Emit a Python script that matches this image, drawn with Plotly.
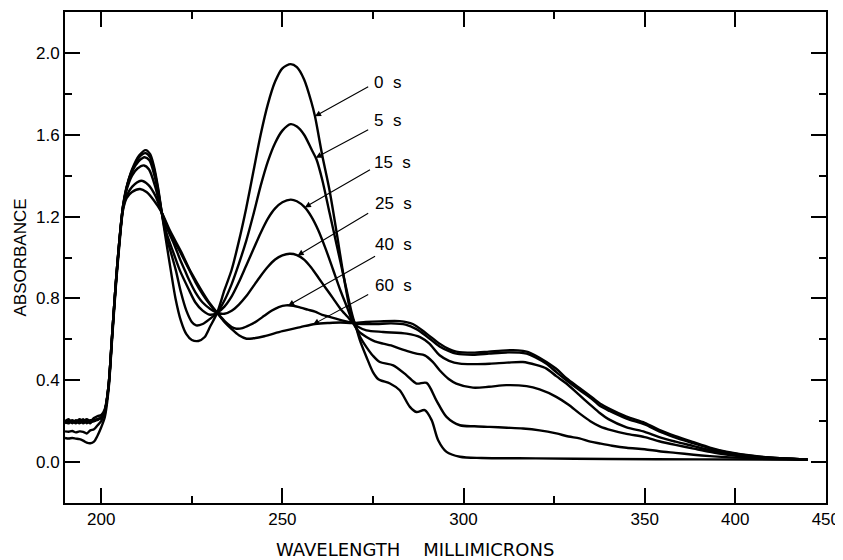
import numpy as np
import plotly.graph_objects as go

# ---------------- data (wavelength in millimicrons, absorbance) ----------------
base_wl = [190, 191, 192, 193, 194, 195, 196, 197, 198, 199, 200, 201, 202, 203, 204, 205, 206]

wl_0s = base_wl + [207, 208.5, 210.5, 212.3, 213.5, 214.5, 215.7, 216.7,
                   218, 219.2, 220.5, 222, 223.5, 225, 226.8, 228.5, 230, 232,
                   234, 236, 238, 240, 242, 244, 246, 248, 250, 252.3,
                   254, 256, 258, 259, 261, 263, 265, 267, 269, 270,
                   271.5, 273.2, 275, 276.5, 279.7, 282.4, 285.2, 287, 289.3, 291.2,
                   293, 295.3, 299, 305, 320, 340, 380, 440]
abs_0s = [0.20, 0.21, 0.19, 0.205, 0.195, 0.21, 0.19, 0.205, 0.20, 0.21, 0.215,
          0.25, 0.37, 0.62, 0.87, 1.08, 1.24,
          1.34, 1.43, 1.50, 1.525, 1.505, 1.45, 1.34, 1.22,
          1.07, 0.937, 0.80, 0.69, 0.625, 0.597, 0.592, 0.61, 0.66, 0.73,
          0.84, 0.94, 1.08, 1.24, 1.42, 1.60, 1.75, 1.86, 1.925, 1.945,
          1.93, 1.87, 1.76, 1.69, 1.50, 1.33, 1.12, 0.90, 0.72, 0.677,
          0.59, 0.514, 0.44, 0.405, 0.384, 0.351, 0.27, 0.245, 0.254, 0.205,
          0.107, 0.05, 0.026, 0.02, 0.018, 0.015, 0.013, 0.012]

wl_5s = base_wl + [207, 208.5, 210.5, 212.2, 213.5, 214.6, 215.7, 216.7,
                   218, 219.3, 220.6, 222, 223.5, 225, 226.2, 228, 230, 232,
                   234, 236, 238, 240, 242, 244, 246, 248, 250, 252.3,
                   254, 256, 258, 259.4, 261, 263, 265, 267, 269, 270,
                   271.5, 273.2, 275, 276.9, 280.6, 284.3, 287, 289.8, 292.5, 295.3,
                   299, 303, 307.2, 312, 316.4, 321, 325.6, 329, 332, 335, 337.6, 341,
                   345, 350, 358, 367, 377, 386, 395, 413, 440]
abs_5s = [0.195, 0.19, 0.20, 0.19, 0.205, 0.19, 0.20, 0.19, 0.21, 0.205, 0.22,
          0.25, 0.37, 0.62, 0.87, 1.08, 1.25,
          1.345, 1.425, 1.49, 1.51, 1.49, 1.43, 1.33, 1.22,
          1.10, 1.02, 0.937, 0.83, 0.74, 0.685, 0.668, 0.675, 0.70, 0.73,
          0.79, 0.87, 0.97, 1.08, 1.21, 1.35, 1.47, 1.56, 1.62, 1.652,
          1.64, 1.60, 1.53, 1.48, 1.38, 1.22, 1.06, 0.90, 0.74, 0.677,
          0.61, 0.562, 0.52, 0.489, 0.473, 0.424, 0.384, 0.387, 0.302, 0.221,
          0.18, 0.175, 0.172, 0.168, 0.164, 0.155, 0.14, 0.125, 0.116, 0.10, 0.091, 0.08,
          0.07, 0.063, 0.053, 0.045, 0.036, 0.029, 0.024, 0.017, 0.012]

wl_15s = base_wl + [207, 208.5, 210.3, 212, 213.3, 214.7, 215.8, 216.7,
                    218, 220, 221.7, 224, 226, 228, 230, 232,
                    234, 236, 238, 240, 242, 244, 246, 248, 250, 252.3,
                    254, 256.2, 258, 260, 262, 264, 266, 268, 269.5,
                    271, 273.2, 275.5, 277.8, 280, 282.4, 285, 287, 289.3, 291.5,
                    293.4, 296, 298, 302.6, 307, 311.8, 317.4, 321, 325.6, 329, 332, 335,
                    337.6, 341, 345, 350, 358, 367, 377, 386, 395, 413, 440]
abs_15s = [0.19, 0.20, 0.195, 0.20, 0.19, 0.20, 0.205, 0.195, 0.20, 0.21, 0.215,
           0.25, 0.37, 0.62, 0.87, 1.08, 1.25,
           1.34, 1.42, 1.47, 1.49, 1.475, 1.40, 1.31, 1.22,
           1.12, 1.02, 0.937, 0.85, 0.78, 0.74, 0.72, 0.73,
           0.76, 0.81, 0.88, 0.96, 1.04, 1.12, 1.19, 1.24, 1.27, 1.283,
           1.275, 1.245, 1.20, 1.13, 1.04, 0.94, 0.84, 0.75, 0.68,
           0.64, 0.611, 0.59, 0.579, 0.57, 0.555, 0.54, 0.53, 0.522, 0.49,
           0.449, 0.405, 0.384, 0.364, 0.368, 0.376, 0.371, 0.355, 0.319, 0.28, 0.238, 0.20,
           0.175, 0.155, 0.138, 0.122, 0.102, 0.084, 0.066, 0.05, 0.037, 0.022, 0.012]

wl_25s = base_wl + [207, 208.5, 210, 211.8, 213.2, 215, 216.7,
                    218, 220, 222, 223.1, 224, 226, 228, 230, 232, 234,
                    236, 238, 240, 242, 244, 246, 248, 250, 252, 254,
                    256, 258, 260, 262, 264, 266, 268, 269.5,
                    271, 273.2, 277.8, 284.3, 288, 290.5, 293.4, 296, 299, 303, 307.2, 312,
                    316.4, 320, 322.9, 325.6, 328.4, 332, 335, 337.6, 340, 345, 350, 358,
                    367, 377, 386, 395, 413, 440]
abs_25s = [0.20, 0.195, 0.205, 0.195, 0.21, 0.20, 0.21, 0.20, 0.215, 0.225, 0.23,
           0.26, 0.37, 0.62, 0.87, 1.08, 1.25,
           1.33, 1.40, 1.435, 1.45, 1.43, 1.34, 1.22,
           1.15, 1.07, 0.98, 0.937, 0.90, 0.83, 0.78, 0.75, 0.73, 0.725,
           0.74, 0.77, 0.81, 0.86, 0.91, 0.955, 0.99, 1.01, 1.018, 1.012,
           0.99, 0.95, 0.90, 0.85, 0.80, 0.75, 0.71, 0.68,
           0.66, 0.644, 0.636, 0.628, 0.611, 0.58, 0.522, 0.495, 0.481, 0.479, 0.481, 0.486,
           0.489, 0.475, 0.457, 0.42, 0.384, 0.327, 0.28, 0.24, 0.21, 0.17, 0.148, 0.122,
           0.10, 0.078, 0.058, 0.042, 0.024, 0.012]

wl_40s = base_wl + [207, 208.5, 211, 213, 215, 216.7,
                    219, 222, 224, 226, 228, 230, 232, 234, 236, 237.3,
                    239, 241, 243, 245, 247, 249, 251, 253, 255, 257,
                    259, 261, 263, 265, 267, 269.5, 272, 276, 280, 284,
                    287, 289.8, 293.4, 296, 298, 302.6, 307, 311.8, 317.4, 320, 322.9, 325.6,
                    328.4, 332, 335.7, 337.6, 340.3, 345, 350, 358, 367, 377, 386, 395, 413, 440]
abs_40s = [0.15, 0.148, 0.152, 0.145, 0.15, 0.148, 0.14, 0.155, 0.16, 0.18, 0.20,
           0.25, 0.36, 0.61, 0.86, 1.07, 1.24,
           1.30, 1.345, 1.375, 1.355, 1.30, 1.22,
           1.12, 1.02, 0.95, 0.88, 0.82, 0.77, 0.73, 0.69, 0.66, 0.652,
           0.655, 0.67, 0.69, 0.715, 0.74, 0.758, 0.766, 0.764, 0.755, 0.745,
           0.735, 0.72, 0.71, 0.70, 0.69, 0.68, 0.675, 0.675, 0.678, 0.672,
           0.65, 0.615, 0.565, 0.542, 0.53, 0.525, 0.53, 0.536, 0.53, 0.51, 0.48, 0.44,
           0.40, 0.352, 0.305, 0.275, 0.25, 0.213, 0.184, 0.15, 0.12, 0.092, 0.067, 0.048, 0.026, 0.012]

wl_60s = base_wl + [207, 208.5, 210.7, 212.5, 214.5, 216.7,
                    219, 222, 224.5, 226, 228, 230, 232, 234, 236, 238,
                    240.1, 242, 245, 250, 255, 259, 263, 266, 269.5, 273,
                    277, 282.4, 286, 289.8, 293.4, 296, 298, 302.6, 307, 311.8,
                    315, 317.4, 320, 322.9, 326, 328.4, 332, 335.7, 338, 340.3, 345, 350,
                    358, 367, 377, 386, 395, 413, 440]
abs_60s = [0.118, 0.115, 0.118, 0.115, 0.112, 0.105, 0.095, 0.092, 0.10, 0.13, 0.17,
           0.22, 0.35, 0.60, 0.85, 1.06, 1.23,
           1.29, 1.32, 1.335, 1.32, 1.28, 1.22,
           1.13, 1.03, 0.937, 0.89, 0.83, 0.775, 0.73, 0.685, 0.65, 0.62,
           0.603, 0.605, 0.615, 0.64, 0.66, 0.675, 0.68, 0.682, 0.68, 0.685,
           0.688, 0.689, 0.675, 0.628, 0.579, 0.552, 0.54, 0.535, 0.54, 0.546,
           0.546, 0.54, 0.52, 0.489, 0.45, 0.41, 0.362, 0.313, 0.283, 0.26, 0.222, 0.192,
           0.158, 0.127, 0.097, 0.071, 0.051, 0.027, 0.013]

series = [("0\u00a0\u00a0s", wl_0s, abs_0s), ("5\u00a0\u00a0s", wl_5s, abs_5s),
          ("15\u00a0\u00a0s", wl_15s, abs_15s), ("25\u00a0\u00a0s", wl_25s, abs_25s),
          ("40\u00a0\u00a0s", wl_40s, abs_40s), ("60\u00a0\u00a0s", wl_60s, abs_60s)]

# arrow tips (wavelength on curve) and label anchor positions (wavelength, absorbance)
arrow_tip_wl = [259.0, 259.2, 256.2, 254.2, 251.6, 258.5]
arrow_tail_wl = [274.1, 274.1, 274.6, 274.1, 276.0, 274.1]
arrow_tail_abs = [1.839, 1.628, 1.433, 1.221, 1.010, 0.823]
label_wl = [274.8, 274.8, 274.8, 275.0, 275.0, 275.0]
label_abs = [1.855, 1.668, 1.462, 1.262, 1.063, 0.863]

x_tick_labels = ["200", "250", "300", "350", "400", "450"]
x_tick_wl = [200, 250, 300, 350, 400, 450]
x_minor_wl = [225, 275, 325]
y_tick_vals = [0.0, 0.4, 0.8, 1.2, 1.6, 2.0]
y_minor_vals = [0.2, 0.6, 1.0, 1.4, 1.8]
x_title = "WAVELENGTH\u00a0\u00a0\u00a0\u00a0MILLIMICRONS"
y_title = "ABSORBANCE"


def to_axis(w):
    """Instrument scale: linear to 350, half scale beyond 350."""
    w = np.asarray(w, dtype=float)
    return np.where(w <= 350, w, 350 + (w - 350) / 2.0)


FONT = "Liberation Sans"
fig = go.Figure()
for name, wl, ab in series:
    assert len(wl) == len(ab), (name, len(wl), len(ab))
    fig.add_trace(go.Scatter(x=to_axis(wl), y=ab, mode="lines", name=name,
                             line=dict(color="black", width=2.4, shape="spline", smoothing=0.8),
                             showlegend=False, hoverinfo="skip"))

annotations = []
for i, (name, wl, ab) in enumerate(series):
    tip_y = float(np.interp(arrow_tip_wl[i], wl, ab))
    annotations.append(dict(x=float(to_axis(arrow_tip_wl[i])), y=tip_y, xref="x", yref="y",
                            ax=float(to_axis(arrow_tail_wl[i])), ay=arrow_tail_abs[i],
                            axref="x", ayref="y", text="", showarrow=True,
                            arrowhead=2, arrowsize=1.1, arrowwidth=1.1, arrowcolor="black"))
    annotations.append(dict(x=float(to_axis(label_wl[i])), y=label_abs[i], xref="x", yref="y",
                            text=name, showarrow=False, xanchor="left", yanchor="middle",
                            font=dict(family=FONT, size=17, color="black")))

# x-axis title, set slightly left of centre as in the original
annotations.append(dict(x=0.46, y=-0.094, xref="paper", yref="paper", text=x_title,
                        showarrow=False, xanchor="center", yanchor="middle",
                        font=dict(family="DejaVu Sans", size=18, color="black")))

# the page body adds an 8 px offset; margins compensate so the frame sits where the original does
fig.update_layout(
    width=843, height=560,
    margin=dict(l=57, r=25, t=4, b=65),
    paper_bgcolor="white", plot_bgcolor="white",
    annotations=annotations,
    font=dict(family=FONT, color="black"),
)
fig.update_xaxes(
    range=[190, 400.05], tickmode="array", automargin=False,
    tickvals=list(to_axis(x_tick_wl)), ticktext=x_tick_labels,
    ticks="inside", ticklen=15, tickwidth=1.5, tickcolor="black",
    minor=dict(tickvals=list(to_axis(x_minor_wl)), ticks="inside", ticklen=7,
               tickwidth=1.5, tickcolor="black", showgrid=False),
    showline=True, linewidth=2, linecolor="black", mirror="allticks",
    showgrid=False, zeroline=False, ticklabeloverflow="allow",
    tickfont=dict(family=FONT, size=17, color="black"),
)
fig.update_yaxes(
    range=[-0.2, 2.2], tickmode="array", automargin=False,
    tickvals=y_tick_vals, ticktext=[f"{v:.1f}" for v in y_tick_vals],
    ticks="inside", ticklen=15, tickwidth=1.5, tickcolor="black",
    minor=dict(tickvals=y_minor_vals, ticks="inside", ticklen=7,
               tickwidth=1.5, tickcolor="black", showgrid=False),
    showline=True, linewidth=2, linecolor="black", mirror="allticks",
    showgrid=False, zeroline=False,
    tickfont=dict(family=FONT, size=17, color="black"),
    title=dict(text=y_title, font=dict(family=FONT, size=17, color="black"), standoff=5),
)

fig.write_html("out.html")
